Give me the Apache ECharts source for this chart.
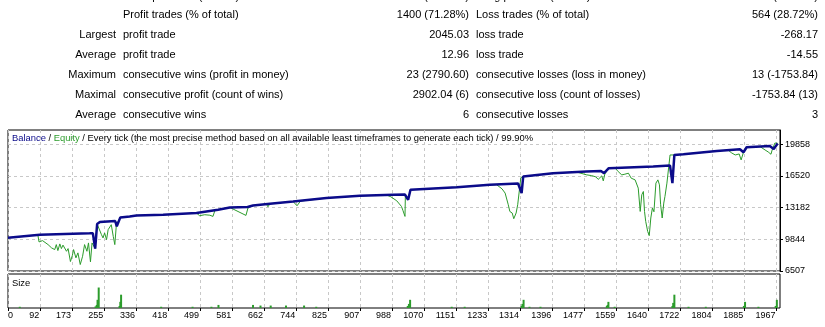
<!DOCTYPE html>
<html>
<head>
<meta charset="utf-8">
<script src="https://cdn.jsdelivr.net/npm/echarts@6/dist/echarts.min.js"></script>
<style>
  html, body { margin: 0; padding: 0; background: #fff; }
  #chart { width: 825px; height: 327px; }
</style>
</head>
<body>
<div id="chart"></div>
<script>
// ---- Report table (label / value columns) ----
const rowLead   = ['', '', 'Largest', 'Average', 'Maximum', 'Maximal', 'Average'];
const rowLabelA = ['Short positions (won %)', 'Profit trades (% of total)', 'profit trade', 'profit trade',
                   'consecutive wins (profit in money)', 'consecutive profit (count of wins)', 'consecutive wins'];
const rowValueA = ['982 (70.67%)', '1400 (71.28%)', '2045.03', '12.96', '23 (2790.60)', '2902.04 (6)', '6'];
const rowLabelB = ['Long positions (won %)', 'Loss trades (% of total)', 'loss trade', 'loss trade',
                   'consecutive losses (loss in money)', 'consecutive loss (count of losses)', 'consecutive losses'];
const rowValueB = ['982 (71.89%)', '564 (28.72%)', '-268.17', '-14.55', '13 (-1753.84)', '-1753.84 (13)', '3'];

// ---- Axis ticks ----
const xTicks = [0, 92, 173, 255, 336, 418, 499, 581, 662, 744, 825, 907, 988, 1070, 1151, 1233,
                1314, 1396, 1477, 1559, 1640, 1722, 1804, 1885, 1967];
const yTicks = [6507, 9844, 13182, 16520, 19858];

// ---- Balance curve: [trade #, balance] ----
const balance = [
  [10,10000],[91,10338],[218,10474],[226,10495],[232,8870],[237,11461],[244,11671],[283,11776],
  [287,11209],[296,12154],[320,12259],[337,12364],[405,12437],[490,12616],[545,12962],[575,13203],
  [620,13250],[623,13140],[634,13413],[677,13592],[736,13833],[821,14190],[906,14431],[991,14536],
  [1021,14560],[1029,14012],[1035,15061],[1153,15345],[1237,15586],[1309,15722],[1318,14715],
  [1322,16457],[1398,16814],[1483,16982],[1520,17050],[1528,16814],[1540,17339],[1653,17507],
  [1696,17612],[1702,15764],[1707,18735],[1730,18808],[1815,19155],[1874,19333],[1883,19018],
  [1891,19543],[1950,19679],[1960,19365],[1970,19942]
];

// ---- Equity curve: [trade #, equity] ----
const equity = [
  [10,10000],[86,10320],
  [89,9572],[98,9708],[112,9288],[121,8942],[129,8764],[133,9288],[137,8659],[142,9362],[146,8869],
  [150,9236],[159,8585],[163,8869],[169,7504],[174,8165],[177,8764],[183,7892],[188,8417],[194,7189],
  [200,8060],[205,9288],[211,8585],[215,9467],[220,7472],[224,9467],[228,9288],[232,8870],[237,11461],
  [241,11283],[248,10338],[252,9992],[256,10517],[261,9813],[265,10863],[269,10653],[273,11388],
  [278,10160],[282,9288],[286,11388],[287,11209],[296,12154],
  [320,12259],[337,12364],[405,12437],[490,12616],[498,12332],[511,12437],[524,12385],[532,12259],
  [537,12900],[545,12962],[575,13203],[616,12364],[621,13140],[634,13413],[668,13560],[672,13277],
  [677,13592],[736,13833],[746,13382],[755,13880],[821,14190],[906,14431],[974,14515],
  [985,14327],[1000,13906],[1012,13308],[1016,12857],[1021,12259],[1022,14536],[1029,14012],[1035,15061],
  [1153,15345],[1237,15586],[1254,15610],
  [1258,15586],[1268,15166],[1276,14715],[1284,13487],[1288,12783],[1294,12616],[1298,12017],
  [1304,12616],[1308,13487],[1313,13592],[1316,16349],[1322,16457],
  [1398,16814],[1458,16933],
  [1462,16740],[1484,16636],[1496,16562],[1507,16425],[1513,16163],[1518,16005],[1522,16530],
  [1526,16005],[1530,16740],[1540,17339],
  [1556,17360],[1564,16982],[1573,16636],[1581,16709],[1590,16814],[1597,16289],[1607,16111],
  [1615,15240],[1620,12783],[1624,14536],[1628,14883],[1631,12783],[1634,11734],[1639,10684],
  [1643,10233],[1647,12091],[1651,13140],[1655,12752],[1660,15764],[1665,16111],[1669,15586],
  [1672,13487],[1676,12091],[1680,13665],[1683,14358],[1688,15764],[1692,15901],[1696,18735],[1707,18735],
  [1730,18808],[1815,19155],[1844,19240],
  [1853,18945],[1862,18735],[1867,18525],[1872,18840],[1877,18210],[1883,19018],[1891,19543],
  [1925,19620],
  [1938,19260],[1946,19050],[1953,18808],[1956,19260],[1960,19365],[1963,19995],[1970,19963]
];

// ---- Position size per trade: [trade #, lots] ----
const sizes = [
  [40,0.06],[233,0.08],[236,0.15],[238,0.4],[241,1.0],[294,0.1],[296,0.3],[298,0.65],
  [400,0.06],[480,0.06],[528,0.06],[546,0.15],[634,0.15],[653,0.12],[679,0.12],[718,0.12],
  [764,0.12],[795,0.06],[1028,0.1],[1031,0.2],[1034,0.4],[1140,0.06],[1173,0.06],
  [1318,0.1],[1320,0.2],[1323,0.4],[1338,0.06],[1366,0.06],[1535,0.1],[1537,0.15],[1539,0.3],
  [1555,0.06],[1702,0.1],[1704,0.25],[1707,0.65],[1743,0.06],[1787,0.06],[1884,0.1],[1887,0.3],
  [1921,0.06],[1965,0.1],[1968,0.4]
];

const X_MIN = 10, X_MAX = 1976;
const Y_MIN = 6507, Y_MAX = 21365;
const SIZE_MAX = 1.66;

const FONT = 'Liberation Sans';
const CAPTION_FONT = '9.4px "' + FONT + '"';
const BAL_COLOR = '#0b0b8a';
const EQ_COLOR = '#2c9c2c';
const GRID_LINE = { show: true, lineStyle: { type: [3, 3], color: '#c8c8c8', width: 1 } };
const xTickPos = xTicks.map(v => Math.max(v, X_MIN));

// report table as text elements
const graphics = [];
const colX = [116, 123, 469, 476, 818];
const colAlign = ['right', 'left', 'right', 'left', 'right'];
const cols = [rowLead, rowLabelA, rowValueA, rowLabelB, rowValueB];
for (let r = 0; r < rowLead.length; r++) {
  const y = (r === 0 ? -3 : -5) + r * 20;
  cols.forEach((col, c) => {
    if (!col[r]) return;
    graphics.push({
      type: 'text', x: colX[c], y: y,
      style: { text: col[r], fill: '#000', font: '11px "' + FONT + '"', align: colAlign[c], verticalAlign: 'middle' }
    });
  });
}
// chart caption
graphics.push({
  type: 'text', x: 12, y: 138.5, z: 10,
  style: {
    text: '{b|Balance} / {e|Equity} / Every tick (the most precise method based on all available least timeframes to generate each tick) / 99.90%',
    fill: '#000', font: CAPTION_FONT, verticalAlign: 'middle',
    rich: { b: { fill: BAL_COLOR, font: CAPTION_FONT }, e: { fill: EQ_COLOR, font: CAPTION_FONT } }
  }
});
graphics.push({
  type: 'text', x: 12, y: 283.5, z: 10,
  style: { text: 'Size', fill: '#000', font: CAPTION_FONT, verticalAlign: 'middle' }
});

const chart = echarts.init(document.getElementById('chart'), null, { renderer: 'canvas' });
chart.setOption({
  animation: false,
  backgroundColor: '#fff',
  textStyle: { fontFamily: FONT },
  graphic: graphics,
  grid: [
    { left: 8, right: 45, top: 130, bottom: 56, show: true, borderColor: '#000', borderWidth: 1,
      backgroundColor: '#fff', containLabel: false, outerBoundsMode: 'none' },
    { left: 8, right: 45, top: 274, bottom: 19, show: true, borderColor: '#000', borderWidth: 1,
      backgroundColor: '#fff', containLabel: false, outerBoundsMode: 'none' }
  ],
  xAxis: [
    { type: 'value', gridIndex: 0, min: X_MIN, max: X_MAX,
      axisLine: { show: false }, axisTick: { show: false, customValues: xTickPos },
      axisLabel: { show: false, customValues: xTickPos }, splitLine: GRID_LINE },
    { type: 'value', gridIndex: 1, min: X_MIN, max: X_MAX,
      axisLine: { show: false },
      axisTick: { show: true, customValues: xTickPos, length: 3, lineStyle: { color: '#000' } },
      axisLabel: { show: true, customValues: xTickPos, color: '#000', fontSize: 9, fontFamily: FONT,
        margin: 3, align: 'right', alignMinLabel: 'left', padding: [0, 1, 0, 0],
        formatter: v => (v <= X_MIN ? String(xTicks[0]) : String(v)) },
      splitLine: GRID_LINE }
  ],
  yAxis: [
    { type: 'value', gridIndex: 0, position: 'right', min: Y_MIN, max: Y_MAX,
      axisLine: { show: true, lineStyle: { color: '#000' } },
      axisTick: { show: true, customValues: yTicks, length: 3, lineStyle: { color: '#000' } },
      axisLabel: { show: true, customValues: yTicks, color: '#000', fontSize: 9, fontFamily: FONT, margin: 5,
        formatter: v => String(Math.round(v)) },
      splitLine: GRID_LINE },
    { type: 'value', gridIndex: 1, position: 'right', min: 0, max: SIZE_MAX,
      axisLine: { show: false }, axisTick: { show: false }, axisLabel: { show: false }, splitLine: { show: false } }
  ],
  series: [
    { name: 'Equity', type: 'line', xAxisIndex: 0, yAxisIndex: 0, data: equity, symbol: 'none',
      lineStyle: { color: EQ_COLOR, width: 1 }, z: 2, clip: true },
    { name: 'Balance', type: 'line', xAxisIndex: 0, yAxisIndex: 0, data: balance, symbol: 'none',
      lineStyle: { color: BAL_COLOR, width: 2.5 }, z: 3, clip: true },
    { name: 'Size', type: 'bar', xAxisIndex: 1, yAxisIndex: 1, data: sizes, barWidth: 2,
      itemStyle: { color: EQ_COLOR }, z: 2 }
  ]
});
</script>
</body>
</html>
